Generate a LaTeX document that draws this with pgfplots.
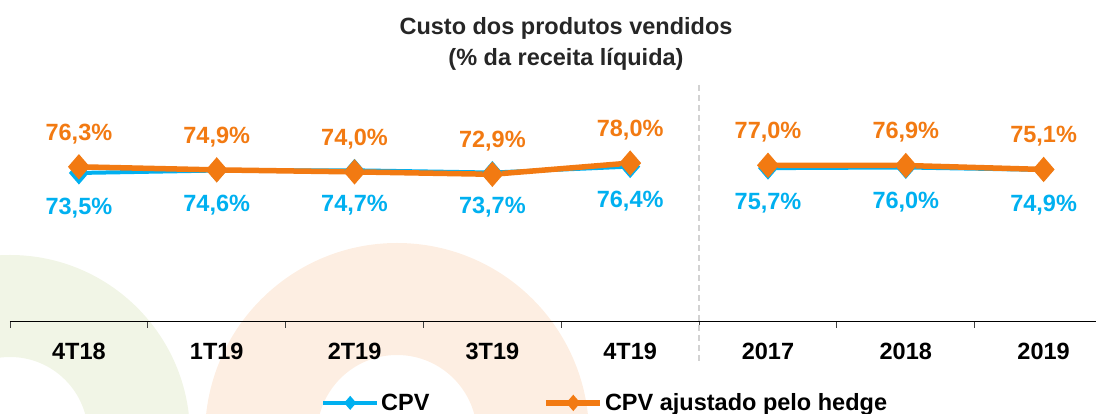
\documentclass[border=0pt]{standalone}
\usepackage{fontspec}
\setmainfont{Liberation Sans}
\usepackage{pgfplots}
\pgfplotsset{compat=1.18}
\definecolor{cpv}{RGB}{0,176,240}
\definecolor{hedge}{RGB}{242,122,18}
\definecolor{ringG}{RGB}{241,245,230}
\definecolor{ringO}{RGB}{253,238,226}
\definecolor{titlegray}{RGB}{38,38,38}
\newcommand{\bigfont}{\fontsize{23.5}{31}\selectfont\bfseries}
\begin{document}
\begin{tikzpicture}[x=1pt,y=1pt]
\path[use as bounding box] (0,0) rectangle (1096,414);
\begin{scope}
\clip (0,0) rectangle (1096,414);
\fill[ringG, even odd rule] (10,-21) circle (180) (10,-21) circle (78);
\fill[ringO, even odd rule] (397,-21) circle (192) (397,-21) circle (80);
\end{scope}
\node[align=center, font=\bigfont, text=titlegray] at (566,370) {Custo dos produtos vendidos\\(\% da receita líquida)};
\begin{axis}[
 at={(10pt,93pt)}, anchor=south west,
 scale only axis, width=1086pt, height=236pt,
 xmin=-0.5, xmax=7.38, ymin=6.2, ymax=113.5,
 clip=false, unbounded coords=jump,
 axis y line=none, axis x line=bottom,
 x axis line style={-, line width=0.9pt, black},
 xtick={0,...,7}, xticklabels={4T18,1T19,2T19,3T19,4T19,2017,2018,2019},
 major tick length=0pt,
 minor xtick={-0.5,0.5,...,6.5},
 minor tick length=7pt, xtick align=outside,
 minor tick style={line width=0.9pt, black!75},
 xticklabel style={font=\bigfont, yshift=-19pt},
 legend style={at={(axis description cs:0.548,-0.347)}, anchor=center, draw=none, fill=none,
   font=\bigfont, /tikz/every even column/.append style={column sep=112pt}},
 legend columns=2, legend cell align=left,
 legend image code/.code={\draw[#1, mark repeat=2, mark phase=2, mark size=4pt] plot coordinates {(0pt,0pt) (27pt,0pt) (54pt,0pt)};},
]
\draw[gray!35, dash pattern=on 6pt off 4pt, line width=1.2pt] (axis cs:4.5,113.5) -- (axis cs:4.5,-12.4);
\addplot[cpv, line width=4pt, mark=diamond*, mark size=8.5pt, mark options={solid, xscale=1.15},
  nodes near coords, point meta=explicit symbolic,
  every node near coord/.style={anchor=center, yshift=-35pt, font=\bigfont, text=cpv}]
  table[meta=label] {
x y label
0 73.5 73,5\%
1 74.6 74,6\%
2 74.7 74,7\%
3 73.7 73,7\%
4 76.4 76,4\%
4.5 nan {}
5 75.7 75,7\%
6 76.0 76,0\%
7 74.9 74,9\%
};
\addlegendentry{CPV}
\addplot[hedge, line width=5.5pt, mark=diamond*, mark size=8.5pt, mark options={solid, xscale=1.15},
  nodes near coords, point meta=explicit symbolic,
  every node near coord/.style={anchor=center, yshift=33pt, font=\bigfont, text=hedge}]
  table[meta=label] {
x y label
0 76.3 76,3\%
1 74.9 74,9\%
2 74.0 74,0\%
3 72.9 72,9\%
4 78.0 78,0\%
4.5 nan {}
5 77.0 77,0\%
6 76.9 76,9\%
7 75.1 75,1\%
};
\addlegendentry{CPV ajustado pelo hedge}
\end{axis}
\end{tikzpicture}
\end{document}
